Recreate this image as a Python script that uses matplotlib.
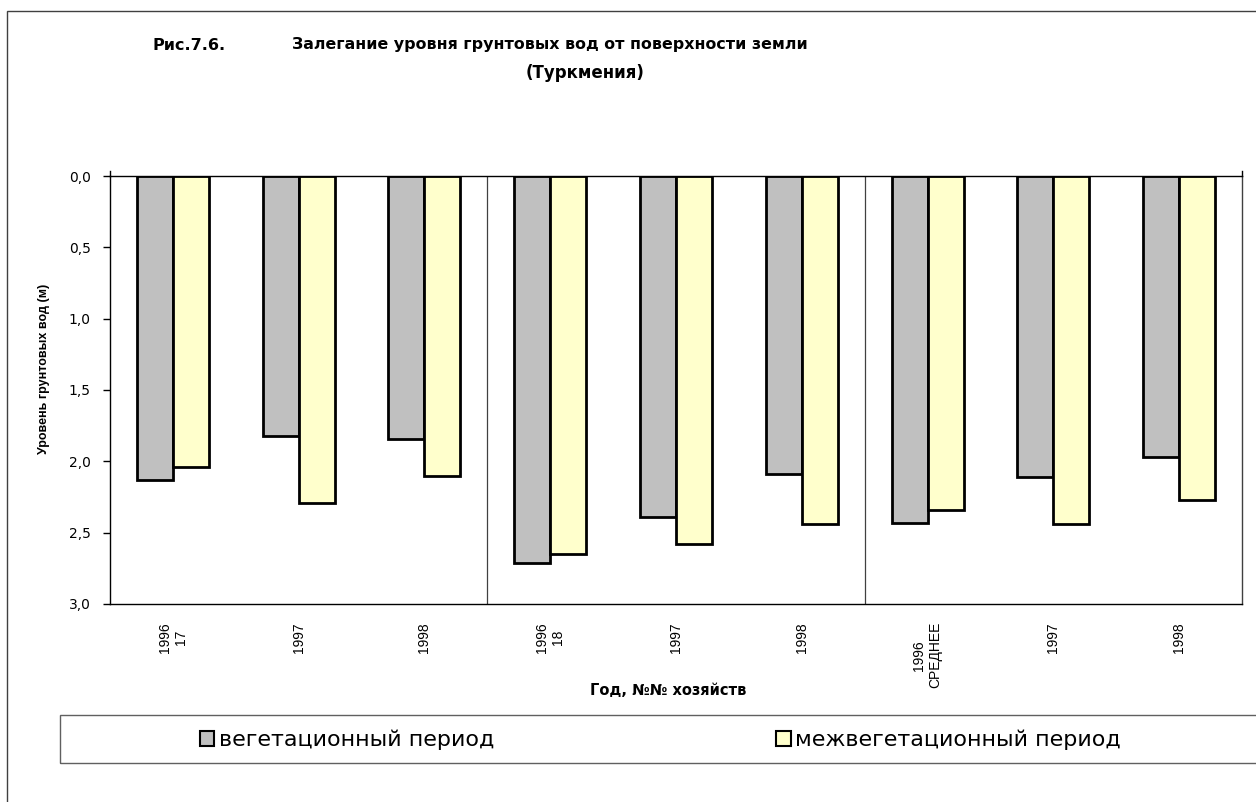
import matplotlib.pyplot as plt
import numpy as np
from matplotlib.patches import Patch, Rectangle

# годы и хозяйства
labels = ["1996\n17", "1997", "1998",
          "1996\n18", "1997", "1998",
          "1996\nСРЕДНЕЕ", "1997", "1998"]
# глубина залегания грунтовых вод, м
veg = [2.13, 1.82, 1.84, 2.71, 2.39, 2.09, 2.43, 2.11, 1.97]
mezhveg = [2.04, 2.29, 2.10, 2.65, 2.58, 2.44, 2.34, 2.44, 2.27]
names = ["вегетационный период", "межвегетационный период"]

W, H = 1256, 802
fig = plt.figure(figsize=(W / 100, H / 100), dpi=100)
fig.patch.set_facecolor("white")

ax = fig.add_axes([110 / W, 1 - 604 / H, 1132 / W, 428 / H])

x = np.arange(len(labels))
w = 0.286
ax.bar(x - w / 2, veg, w, color="#C0C0C0", edgecolor="black", linewidth=2.0)
ax.bar(x + w / 2, mezhveg, w, color="#FFFFCC", edgecolor="black", linewidth=2.0)

ax.set_xlim(-0.5, len(labels) - 0.5)
ax.set_ylim(3, 0)
ax.set_yticks(np.arange(0, 3.01, 0.5))
ax.set_yticklabels([f"{v:.1f}".replace(".", ",") for v in np.arange(0, 3.01, 0.5)],
                   fontsize=10, family="DejaVu Sans")
ax.tick_params(axis="y", direction="out", length=5, width=1, pad=9, color="black")

ax.set_xticks(x)
ax.set_xticklabels(labels, rotation=90, fontsize=10, family="Liberation Sans",
                   va="top", ha="center", multialignment="center")
ax.tick_params(axis="x", length=0, pad=13)

# короткие засечки по краям оси категорий
for xe in [-0.5, len(labels) - 0.5]:
    ax.plot([xe, xe], [0, -0.035], color="black", lw=1, clip_on=False)

for xs in [2.5, 5.5]:
    ax.axvline(xs, color="#404040", lw=0.9)
for s in ax.spines.values():
    s.set_color("black")
    s.set_linewidth(1)
ax.spines["right"].set_color("#404040")

ax.set_ylabel("Уровень грунтовых вод (м)", fontsize=9, fontweight="bold",
              family="Liberation Sans")
ax.yaxis.set_label_coords(-0.053, 0.55)
ax.set_xlabel("Год, №№ хозяйств", fontsize=10.5, fontweight="bold", family="DejaVu Sans")
ax.xaxis.set_label_coords(0.493, -0.185)

# заголовок
fig.text(152 / W, 1 - 45 / H, "Рис.7.6.", fontsize=11.5, fontweight="bold",
         family="DejaVu Sans", va="center")
fig.text(292 / W, 1 - 45 / H, "Залегание уровня грунтовых вод от поверхности земли",
         fontsize=11.4, fontweight="bold", family="DejaVu Sans", va="center")
fig.text(585 / W, 1 - 73 / H, "(Туркмения)", fontsize=12, fontweight="bold",
         family="DejaVu Sans", va="center", ha="center")

# рамки рисунка и легенды
fig.patches.append(Rectangle((7 / W, -0.1), 1.2, 1.1 - 11 / H, transform=fig.transFigure,
                             fill=False, edgecolor="#404040", lw=1))
fig.patches.append(Rectangle((60 / W, 39 / H), 1.2, 48 / H, transform=fig.transFigure,
                             fill=False, edgecolor="#606060", lw=1))

handles = [Patch(facecolor="#C0C0C0", edgecolor="black", lw=1.5),
           Patch(facecolor="#FFFFCC", edgecolor="black", lw=1.5)]
fig.legend(handles, names, loc="center left", bbox_to_anchor=(200 / W, 1 - 740 / H),
           ncol=2, frameon=False, handlelength=0.65, handleheight=0.65,
           handletextpad=0.2, columnspacing=12.7, borderpad=0, borderaxespad=0,
           prop={"family": "DejaVu Sans", "size": 16})

fig.savefig("out.png", dpi=100)
